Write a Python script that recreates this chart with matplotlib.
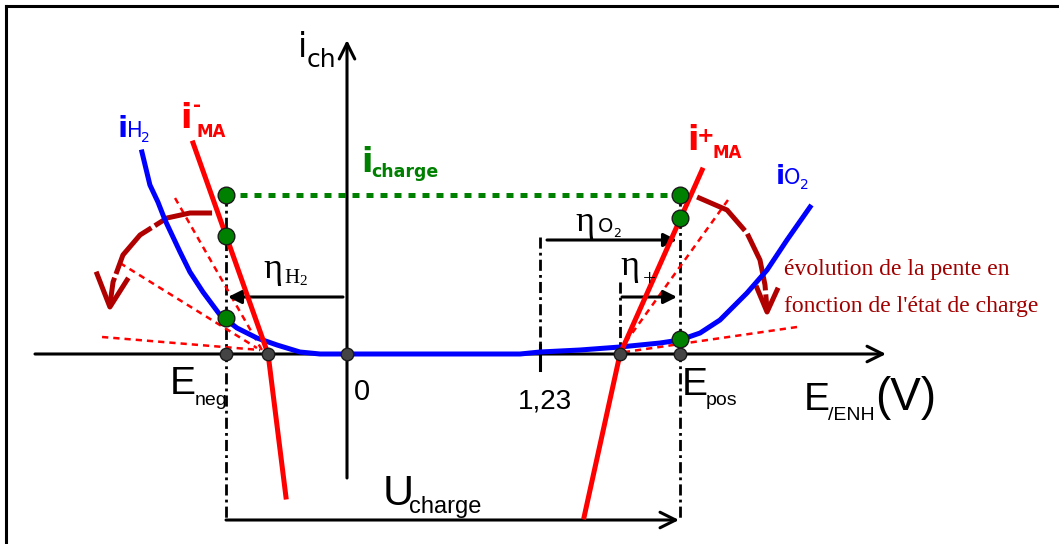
import numpy as np
import matplotlib.pyplot as plt

# picture scale: pixels per volt / per current unit, origin position
SX = 193 / 1.23
SY = 100.0
X0, Y0 = 347, 354
W, H = 1059, 544

# potentials (V) and currents (a.u.)
E_neg = -0.771
E_pos = 2.122
E_eq = 1.23
E_minus = -0.503   # i-MA crosses zero
E_plus = 1.740     # i+MA crosses zero
i_charge = 1.59
i_U = -1.66

# water decomposition curve, iH2 branch then iO2 branch
blue_E = [-1.307, -1.256, -1.205, -1.160, -1.064, -1.001, -0.918, -0.809, -0.701, -0.574,
          -0.446, -0.300, -0.172, 1.103, 1.230, 1.485, 1.740, 1.995, 2.122, 2.250, 2.377,
          2.549, 2.677, 2.804, 2.951]
blue_i = [2.02, 1.69, 1.52, 1.34, 1.02, 0.82, 0.62, 0.39, 0.26, 0.16,
          0.09, 0.02, 0.0, 0.0, 0.02, 0.04, 0.07, 0.11, 0.14, 0.21, 0.34,
          0.61, 0.84, 1.14, 1.47]

# active material lines
neg_E = [-0.981, E_minus, -0.389]
neg_i = [2.11, 0.0, -1.43]
pos_E = [2.263, E_plus, 1.511]
pos_i = [1.84, 0.0, -1.63]

# tangents (slope changing with state of charge)
tan_E0 = [-1.096, -1.447, -1.561, 2.428, 2.868]
tan_i0 = [1.56, 0.91, 0.17, 1.54, 0.27]
tan_E1 = [-0.535, -0.574, -0.554, 1.740, 1.772]
tan_i1 = [0.02, 0.06, 0.04, 0.04, 0.02]

# working points
green_left_i = [i_charge, 1.18, 0.36]
green_right_i = [i_charge, 1.36, 0.15]
grey_E = [E_neg, E_minus, 0.0, E_plus, E_pos]

# curved arrows
arcL_E = [-0.860, -1.001, -1.147, -1.319, -1.428, -1.491, -1.511]
arcL_i = [1.41, 1.41, 1.36, 1.19, 0.99, 0.72, 0.49]
headL_E = [-1.593, -1.511, -1.402]
headL_i = [0.80, 0.47, 0.74]
arcR_E = [2.231, 2.422, 2.549, 2.632, 2.664, 2.677]
arcR_i = [1.57, 1.44, 1.21, 0.94, 0.69, 0.44]
headR_E = [2.613, 2.677, 2.741]
headR_i = [0.66, 0.42, 0.64]

BLUE = '#0000ff'
RED = '#ff0000'
GREEN = '#008000'
DARKRED = '#b00000'
NARROW = ['Liberation Sans', 'DejaVu Sans']
SERIF = ['Liberation Serif', 'DejaVu Serif']


def E(px):
    return (px - X0) / SX


def I(py):
    return (Y0 - py) / SY


fig = plt.figure(figsize=(W / 100, H / 100), dpi=100)
ax = fig.add_axes([0, 0, 1, 1])
ax.set_xlim(E(0), E(W))
ax.set_ylim(I(H), I(0))
ax.axis('off')

# frame (top and left only)
ax.plot([E(6), E(W)], [I(6), I(6)], color='k', lw=2.2)
ax.plot([E(6), E(6)], [I(6), I(H)], color='k', lw=2.2)

# axes with open arrow heads
axis_arrow = dict(arrowstyle='->', lw=2.2, color='k', mutation_scale=28,
                  shrinkA=0, shrinkB=0)
ax.annotate('', xy=(E(886), 0), xytext=(E(35), 0), arrowprops=axis_arrow, zorder=3)
ax.annotate('', xy=(0, I(40)), xytext=(0, I(478)), arrowprops=axis_arrow, zorder=3)
ax.plot([E_eq, E_eq], [I(345), I(370)], color='k', lw=2.2)

# dash-dot construction lines
dd = dict(color='k', lw=2.0, dashes=[4, 1.5, 1, 1.5])
ax.plot([E_neg, E_neg], [i_charge, i_U], **dd)
ax.plot([E_pos, E_pos], [i_charge, i_U], **dd)
ax.plot([E_eq, E_eq], [I(237), I(370)], **dd)
ax.plot([E_plus, E_plus], [I(282), 0], **dd)

# tangents
for k in range(len(tan_E0)):
    ax.plot([tan_E0[k], tan_E1[k]], [tan_i0[k], tan_i1[k]], color=RED, lw=1.8,
            dashes=[2.5, 2])

# curves
ax.plot(blue_E, blue_i, color=BLUE, lw=3.6, solid_joinstyle='round', zorder=4)
ax.plot(neg_E, neg_i, color=RED, lw=3.6, zorder=5)
ax.plot(pos_E, pos_i, color=RED, lw=3.6, zorder=5)

# i charge level
ax.plot([E_neg, E_pos], [i_charge, i_charge], color=GREEN, lw=3.6, dashes=[1.4, 1.4])

# curved dark red arrows
ax.plot(arcL_E, arcL_i, color=DARKRED, lw=3.6, dashes=[12, 0.8],
        solid_joinstyle='round')
ax.plot(headL_E, headL_i, color=DARKRED, lw=3.6)
ax.plot(arcR_E, arcR_i, color=DARKRED, lw=3.6, dashes=[12, 0.8])
ax.plot(headR_E, headR_i, color=DARKRED, lw=3.6)

# overpotential and voltage arrows
filled = dict(arrowstyle='-|>', lw=2.2, color='k', mutation_scale=20,
              shrinkA=0, shrinkB=0)
ax.annotate('', xy=(E(228), I(297)), xytext=(E(343), I(297)), arrowprops=filled)
ax.annotate('', xy=(E(677), I(240)), xytext=(E(547), I(240)), arrowprops=filled)
ax.annotate('', xy=(E(677), I(297)), xytext=(E(622), I(297)), arrowprops=filled)
ax.annotate('', xy=(E(679), i_U), xytext=(E_neg, i_U), arrowprops=axis_arrow)

# points
ax.plot([E_neg] * 3, green_left_i, 'o', ms=12, mfc=GREEN, mec='#1a1a1a', mew=1, zorder=6)
ax.plot([E_pos] * 3, green_right_i, 'o', ms=12, mfc=GREEN, mec='#1a1a1a', mew=1, zorder=6)
ax.plot(grey_E, [0] * len(grey_E), 'o', ms=9, mfc='#444444', mec='#1a1a1a', mew=1, zorder=6)


def label(px, py, s, size, **kw):
    kw.setdefault('family', 'DejaVu Sans')
    ax.text(E(px), I(py), s, fontsize=size, ha='left', va='baseline', zorder=7, **kw)


# axis names
label(298, 57, 'i', 24)
label(307, 67, 'ch', 18)
label(170, 394, 'E', 28, family=NARROW)
label(195, 405, 'neg', 14, family=NARROW)
label(354, 400, '0', 21, family=NARROW)
label(518, 408, '1,23', 20, family=NARROW)
label(682, 395, 'E', 28, family=NARROW)
label(706, 405, 'pos', 14, family=NARROW)
label(804, 410, 'E', 28, family=NARROW)
label(828, 420, '/ENH', 14, family=NARROW)
label(875, 410, '(V)', 33, family=NARROW)
label(383, 505, 'U', 31, family=NARROW)
label(409, 513, 'charge', 17, family=NARROW)

# curve names
label(117, 137, 'i', 21, color=BLUE, weight='bold')
label(127, 137, 'H', 15, color=BLUE)
label(141, 142, '2', 10, color=BLUE)
label(180, 128, 'i', 24, color=RED, weight='bold')
label(193, 111, '-', 14, color=RED, weight='bold')
label(197, 137, 'MA', 12, color=RED, weight='bold')
label(687, 150, 'i', 24, color=RED, weight='bold')
label(697, 142, '+', 15, color=RED, weight='bold')
label(712, 158, 'MA', 12, color=RED, weight='bold')
label(776, 184, 'i', 19, color=BLUE, weight='bold')
label(784, 184, 'O', 15, color=BLUE)
label(800, 189, '2', 10, color=BLUE)
label(361, 172, 'i', 24, color=GREEN, weight='bold')
label(371, 177, 'charge', 12.5, color=GREEN, weight='bold')

# overpotentials
label(263, 278, 'η', 26, family=SERIF)
label(284, 283, 'H', 15, family=SERIF)
label(299, 285, '2', 11, family=SERIF)
label(575, 231, 'η', 26, family=SERIF)
label(598, 232, 'O', 14)
label(613, 237, '2', 9)
label(620, 275, 'η', 26, family=SERIF)
label(643, 285, '+', 17, family=SERIF)

label(784, 275, "évolution de la pente en", 17, family=SERIF, color='#a00000')
label(784, 312, "fonction de l'état de charge", 17, family=SERIF, color='#a00000')

fig.savefig('out.png', dpi=100)
